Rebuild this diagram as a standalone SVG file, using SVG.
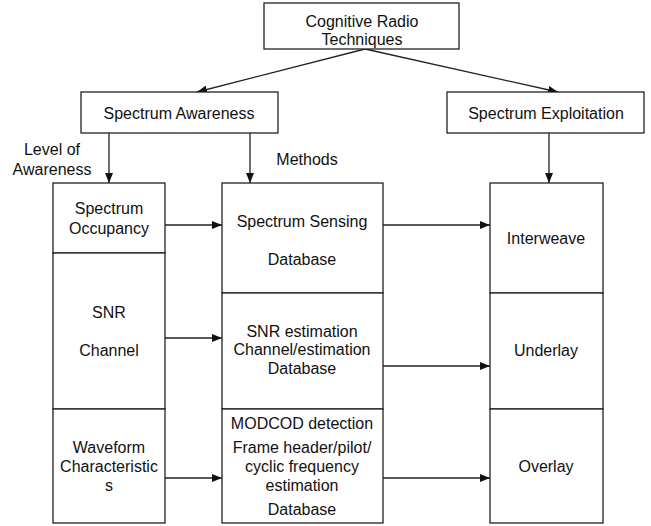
<svg xmlns="http://www.w3.org/2000/svg" width="651" height="526" viewBox="0 0 651 526">
<style>
.b{fill:#fff;stroke:#222;stroke-width:1.3}
.t{font-family:"Liberation Sans",Arial,sans-serif;font-size:16px;fill:#111;text-anchor:middle}
.c{fill:none;stroke:#222;stroke-width:1.3;marker-end:url(#ah)}
</style>
<defs>
<marker id="ah" viewBox="0 0 10 8" refX="10" refY="4" markerWidth="10" markerHeight="8" markerUnits="userSpaceOnUse" orient="auto">
<path d="M0,0 L10,4 L0,8 z" fill="#111"/>
</marker>
</defs>
<rect width="651" height="526" fill="#fff"/>
<g id="connectors">
<line class="c" x1="365" y1="49" x2="197" y2="92"/>
<line class="c" x1="365" y1="49" x2="558" y2="92"/>
<line class="c" x1="109" y1="133" x2="109" y2="183"/>
<line class="c" x1="250" y1="133" x2="250" y2="183"/>
<line class="c" x1="549" y1="133" x2="549" y2="183"/>
<line class="c" x1="165" y1="225" x2="222" y2="225"/>
<line class="c" x1="383" y1="225" x2="490" y2="225"/>
<line class="c" x1="165" y1="338" x2="222" y2="338"/>
<line class="c" x1="383" y1="366" x2="490" y2="366"/>
<line class="c" x1="165" y1="478" x2="222" y2="478"/>
<line class="c" x1="383" y1="478" x2="490" y2="478"/>
</g>
<g id="labels">
<text class="t" x="52" y="155">Level of</text>
<text class="t" x="52" y="175">Awareness</text>
<text class="t" x="307" y="165">Methods</text>
</g>
<g id="cognitive-radio-techniques">
<rect class="b" x="264" y="3" width="195" height="46"/>
<text class="t" x="362" y="27">Cognitive Radio</text>
<text class="t" x="362" y="45">Techniques</text>
</g>
<g id="spectrum-awareness">
<rect class="b" x="81" y="92" width="197" height="41"/>
<text class="t" x="179" y="119">Spectrum Awareness</text>
</g>
<g id="spectrum-exploitation">
<rect class="b" x="447" y="92" width="197" height="41"/>
<text class="t" x="546" y="119">Spectrum Exploitation</text>
</g>
<g id="spectrum-occupancy">
<rect class="b" x="53" y="183" width="112" height="70"/>
<text class="t" x="109" y="214">Spectrum</text>
<text class="t" x="109" y="234">Occupancy</text>
</g>
<g id="snr-channel">
<rect class="b" x="53" y="253" width="112" height="156"/>
<text class="t" x="109" y="318">SNR</text>
<text class="t" x="109" y="356">Channel</text>
</g>
<g id="waveform-characteristics">
<rect class="b" x="53" y="409" width="112" height="114"/>
<text class="t" x="109" y="453">Waveform</text>
<text class="t" x="109" y="472">Characteristic</text>
<text class="t" x="109" y="491">s</text>
</g>
<g id="spectrum-sensing">
<rect class="b" x="222" y="183" width="161" height="110"/>
<text class="t" x="302" y="227">Spectrum Sensing</text>
<text class="t" x="302" y="265">Database</text>
</g>
<g id="snr-estimation">
<rect class="b" x="222" y="293" width="161" height="116"/>
<text class="t" x="302" y="337">SNR estimation</text>
<text class="t" x="302" y="355">Channel/estimation</text>
<text class="t" x="302" y="374">Database</text>
</g>
<g id="modcod-detection">
<rect class="b" x="222" y="409" width="161" height="114"/>
<text class="t" x="302" y="429">MODCOD detection</text>
<text class="t" x="302" y="453">Frame header/pilot/</text>
<text class="t" x="302" y="472">cyclic frequency</text>
<text class="t" x="302" y="491">estimation</text>
<text class="t" x="302" y="515">Database</text>
</g>
<g id="interweave">
<rect class="b" x="490" y="183" width="113" height="110"/>
<text class="t" x="546" y="244">Interweave</text>
</g>
<g id="underlay">
<rect class="b" x="490" y="293" width="113" height="116"/>
<text class="t" x="546" y="356">Underlay</text>
</g>
<g id="overlay">
<rect class="b" x="490" y="409" width="113" height="114"/>
<text class="t" x="546" y="472">Overlay</text>
</g>
</svg>
